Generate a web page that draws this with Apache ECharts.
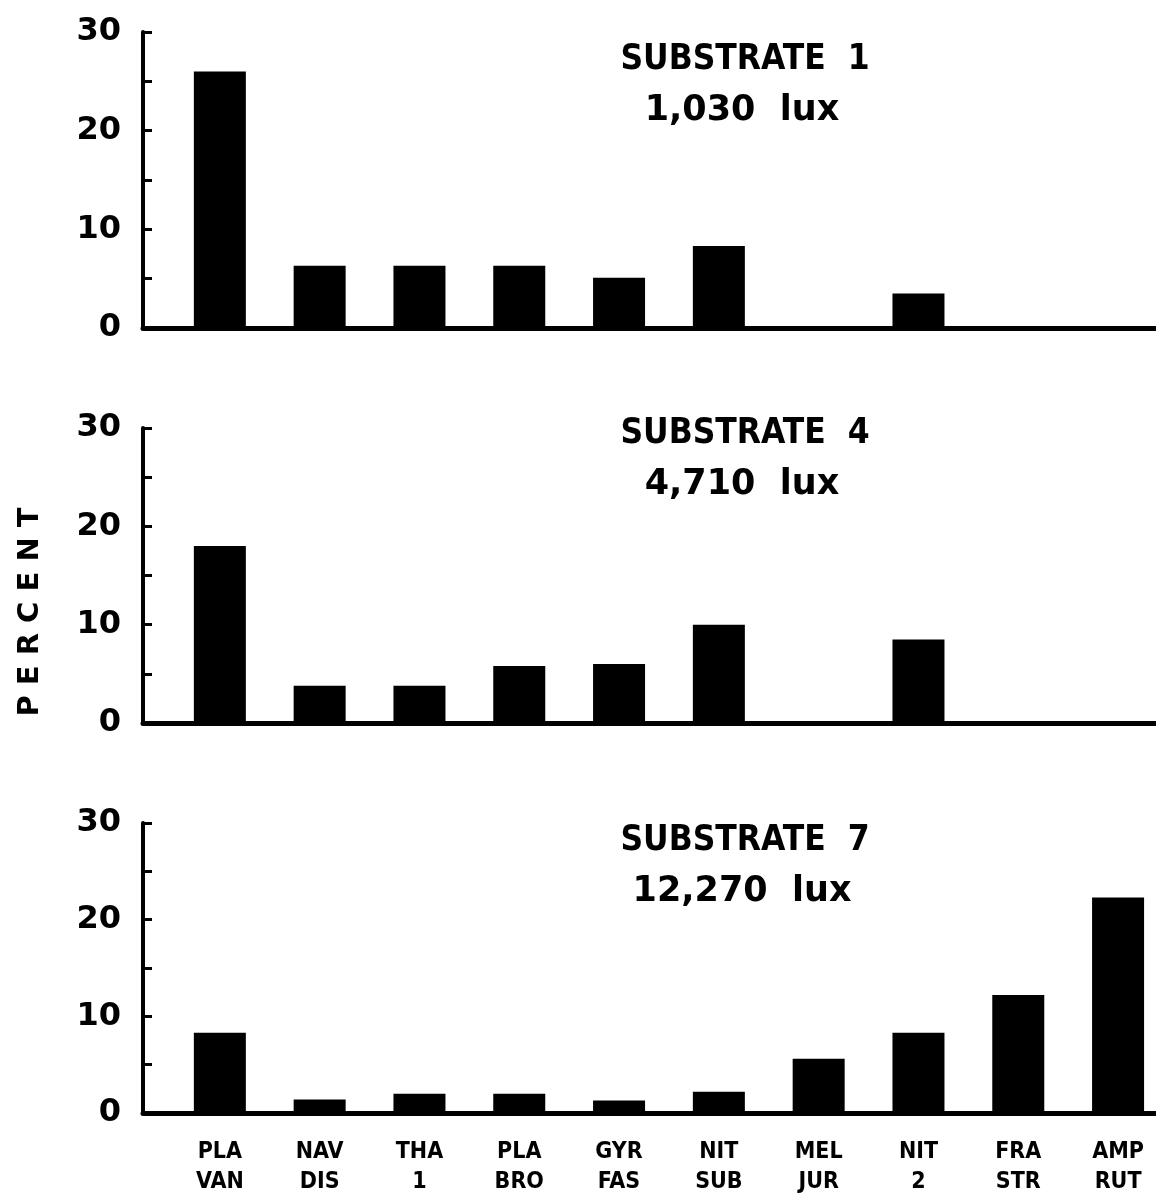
<!DOCTYPE html>
<html>
<head>
<meta charset="utf-8">
<script src="https://cdn.jsdelivr.net/npm/echarts@6/dist/echarts.min.js"></script>
<style>
  html, body { margin: 0; padding: 0; background: #fff; }
  #chart { width: 1156px; height: 1197px; }
</style>
</head>
<body>
<div id="chart"></div>
<script>
// species codes (two-line labels)
var categories = ['PLA\nVAN', 'NAV\nDIS', 'THA\n1', 'PLA\nBRO', 'GYR\nFAS', 'NIT\nSUB', 'MEL\nJUR', 'NIT\n2', 'FRA\nSTR', 'AMP\nRUT'];
var substrate1 = [26.0, 6.3, 6.3, 6.3, 5.1, 8.3, 0, 3.5, 0, 0];
var substrate4 = [18.0, 3.8, 3.8, 5.8, 6.0, 10.0, 0, 8.5, 0, 0];
var substrate7 = [8.3, 1.4, 2.0, 2.0, 1.3, 2.2, 5.6, 8.3, 12.2, 22.3];
var panelTitles = ['SUBSTRATE  1', 'SUBSTRATE  4', 'SUBSTRATE  7'];
var panelLux = ['1,030  lux', '4,710  lux', '12,270  lux'];
var yTicks = [0, 10, 20, 30];

var myChart = echarts.init(document.getElementById('chart'));

var panels = [substrate1, substrate4, substrate7];
var gridTops = [32, 428, 823];
var gridHeights = [296, 295, 294];
var titleTops = [42, 416, 823];

var numFont = '"DejaVu Sans", sans-serif';
var narrowFont = '"Liberation Sans Narrow", "DejaVu Sans Condensed", "Roboto Condensed", sans-serif';

var grids = [], xAxes = [], yAxes = [], series = [], graphics = [];

panels.forEach(function (vals, p) {
    grids.push({ left: 143, right: 0, top: gridTops[p], height: gridHeights[p] });

    // value axis so the baseline can start left of the first bar
    xAxes.push({
        type: 'value',
        gridIndex: p,
        min: -0.77,
        max: 9.38,
        axisLine: { show: true, onZero: false, lineStyle: { color: '#000', width: 5 } },
        axisTick: { show: false },
        splitLine: { show: false },
        axisLabel: {
            show: p === 2,
            customValues: categories.map(function (c, i) { return i; }),
            formatter: function (v) { return categories[Math.round(v)] || ''; },
            color: '#000',
            fontFamily: narrowFont,
            fontWeight: 'bold',
            fontSize: 23,
            lineHeight: 30,
            margin: 24
        }
    });

    yAxes.push({
        type: 'value',
        gridIndex: p,
        min: 0,
        max: 30,
        interval: 10,
        axisLine: { show: true, onZero: false, lineStyle: { color: '#000', width: 4 } },
        axisTick: { show: true, inside: true, length: 9, lineStyle: { color: '#000', width: 3 } },
        minorTick: { show: true, splitNumber: 2, length: 9, lineStyle: { color: '#000', width: 3 } },
        splitLine: { show: false },
        minorSplitLine: { show: false },
        axisLabel: {
            color: '#000',
            fontFamily: numFont,
            fontWeight: 'bold',
            fontSize: 32,
            margin: 22,
            customValues: yTicks
        }
    });

    series.push({
        type: 'bar',
        xAxisIndex: p,
        yAxisIndex: p,
        barWidth: 52,
        itemStyle: { color: '#000' },
        data: vals.map(function (v, i) { return [i, v]; })
    });

    graphics.push({
        type: 'text',
        x: 745, y: titleTops[p],
        style: {
            text: panelTitles[p],
            textAlign: 'center',
            fill: '#000',
            font: 'bold 35px ' + narrowFont
        }
    });
    graphics.push({
        type: 'text',
        x: 742, y: titleTops[p] + 51,
        style: {
            text: panelLux[p],
            textAlign: 'center',
            fill: '#000',
            font: 'bold 35px ' + numFont
        }
    });
});

graphics.push({
    type: 'text',
    x: 30, y: 612,
    rotation: Math.PI / 2,
    style: {
        text: 'P E R C E N T',
        textAlign: 'center',
        textVerticalAlign: 'middle',
        fill: '#000',
        font: 'bold 29px ' + numFont
    }
});

var option = {
    backgroundColor: '#fff',
    animation: false,
    grid: grids,
    xAxis: xAxes,
    yAxis: yAxes,
    series: series,
    graphic: graphics
};
myChart.setOption(option);
</script>
</body>
</html>
